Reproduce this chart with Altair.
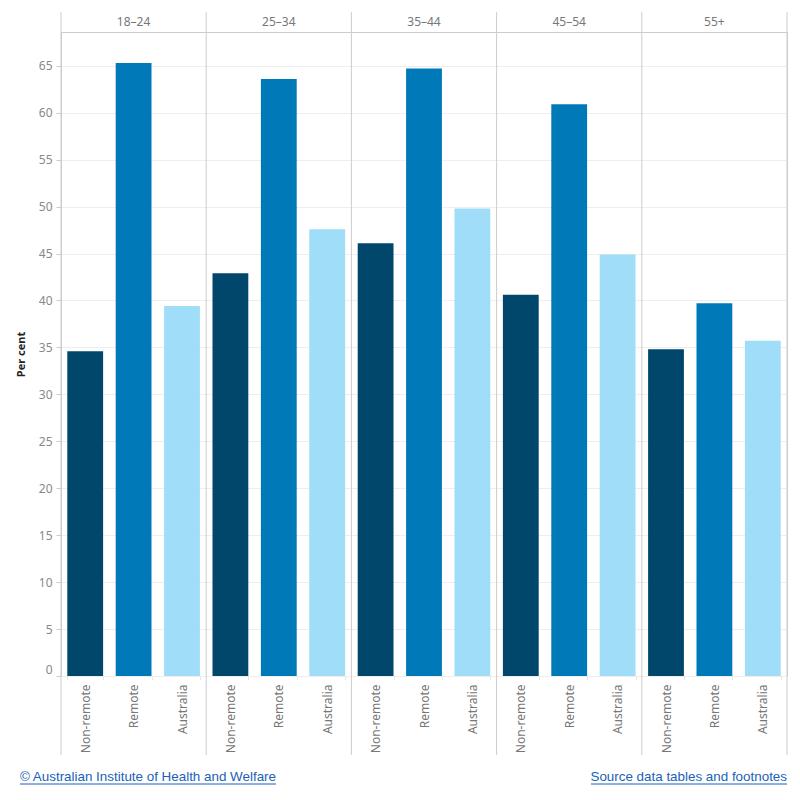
import altair as alt
import pandas as pd

# ---- data ----
ages = ["18–24", "25–34", "35–44", "45–54", "55+"]
regions = ["Non-remote", "Remote", "Australia"]
non_remote = [34.6, 42.9, 46.1, 40.6, 34.8]
remote = [65.3, 63.6, 64.7, 60.9, 39.7]
australia = [39.4, 47.6, 49.8, 44.9, 35.7]
colors = ["#00476b", "#0079b8", "#a0ddf8"]
y_ticks = [0, 5, 10, 15, 20, 25, 30, 35, 40, 45, 50, 55, 60, 65]
footer_left = "© Australian Institute of Health and Welfare"
footer_right = "Source data tables and footnotes"

rows = []
for i, a in enumerate(ages):
    for r, vals in zip(regions, [non_remote, remote, australia]):
        rows.append({"age": a, "region": r, "key": f"{a}|{r}", "value": vals[i]})
df = pd.DataFrame(rows)
keys = list(df["key"])
age_df = pd.DataFrame({"age": ages})

W, H = 726, 644
FONT = "Noto Sans"
LINK = "#1a62b8"

bars = alt.Chart(df).mark_bar().encode(
    x=alt.X(
        "key:N", sort=keys,
        scale=alt.Scale(paddingInner=0.26, paddingOuter=0.13),
        axis=alt.Axis(
            title=None, labelExpr="split(datum.label, '|')[1]", labelAngle=-90,
            labelFont=FONT, labelFontSize=12, labelColor="#777777", labelPadding=4,
            tickBand="extent", tickColor="#e6e6e6", tickSize=4, domain=False,
        ),
    ),
    y=alt.Y(
        "value:Q",
        scale=alt.Scale(domain=[0, 68.6], nice=False, zero=True),
        axis=alt.Axis(
            values=y_ticks, title="Per cent", titleFont=FONT, titleFontSize=11,
            titleFontWeight="bold", titleColor="#222222", titlePadding=12,
            labelFont=FONT, labelFontSize=12, labelColor="#888888", labelPadding=4,
            labelBaseline={"expr": "datum.value == 0 ? 'bottom' : 'middle'"},
            tickColor="#cccccc", tickSize=5, domainColor="#cccccc",
            gridColor="#eeeeee", grid=True,
        ),
    ),
    color=alt.Color("region:N", sort=regions,
                    scale=alt.Scale(domain=regions, range=colors), legend=None),
)

age_x = alt.X("age:N", sort=ages, scale=alt.Scale(paddingInner=0, paddingOuter=0),
              axis=None, bandPosition=0)

seps = alt.Chart(age_df).mark_rule(color="#cccccc", strokeWidth=1).encode(
    x=age_x, y=alt.value(-20), y2=alt.value(H + 79)
)

right_edge = alt.Chart(age_df).transform_filter(
    alt.datum.age == ages[-1]
).mark_rule(color="#cccccc", strokeWidth=1).encode(
    x=alt.value(W), y=alt.value(-20), y2=alt.value(H + 79)
)

headers = alt.Chart(age_df).mark_text(
    font=FONT, fontSize=12, color="#777777", baseline="middle", align="center"
).encode(
    x=alt.X("age:N", sort=ages, scale=alt.Scale(paddingInner=0, paddingOuter=0), axis=None),
    y=alt.value(-10),
    text="age:N",
)

foot_l = alt.Chart(pd.DataFrame({"t": [footer_left]})).mark_text(
    font="Liberation Sans", fontSize=13.4, color=LINK, align="left", baseline="middle"
).encode(x=alt.value(-41), y=alt.value(H + 101), text="t:N")

foot_r = alt.Chart(pd.DataFrame({"t": [footer_right]})).mark_text(
    font="Liberation Sans", fontSize=13.4, color=LINK, align="right", baseline="middle"
).encode(x=alt.value(W), y=alt.value(H + 101), text="t:N")

ul_l = alt.Chart(pd.DataFrame({"t": [footer_left]})).mark_rule(color=LINK, strokeWidth=1).encode(
    x=alt.value(-41), x2=alt.value(-41 + 256), y=alt.value(H + 108)
)
ul_r = alt.Chart(pd.DataFrame({"t": [footer_right]})).mark_rule(color=LINK, strokeWidth=1).encode(
    x=alt.value(W - 196), x2=alt.value(W), y=alt.value(H + 108)
)

chart = alt.layer(
    bars, seps, right_edge, headers, foot_l, foot_r, ul_l, ul_r
).resolve_scale(x="independent").properties(
    width=W, height=H,
    autosize=alt.AutoSizeParams(type="none"),
    padding={"left": 61, "top": 32, "right": 13, "bottom": 124},
).configure_view(stroke="#cccccc")

chart.save("out.html", embed_options={"renderer": "svg", "actions": False})
